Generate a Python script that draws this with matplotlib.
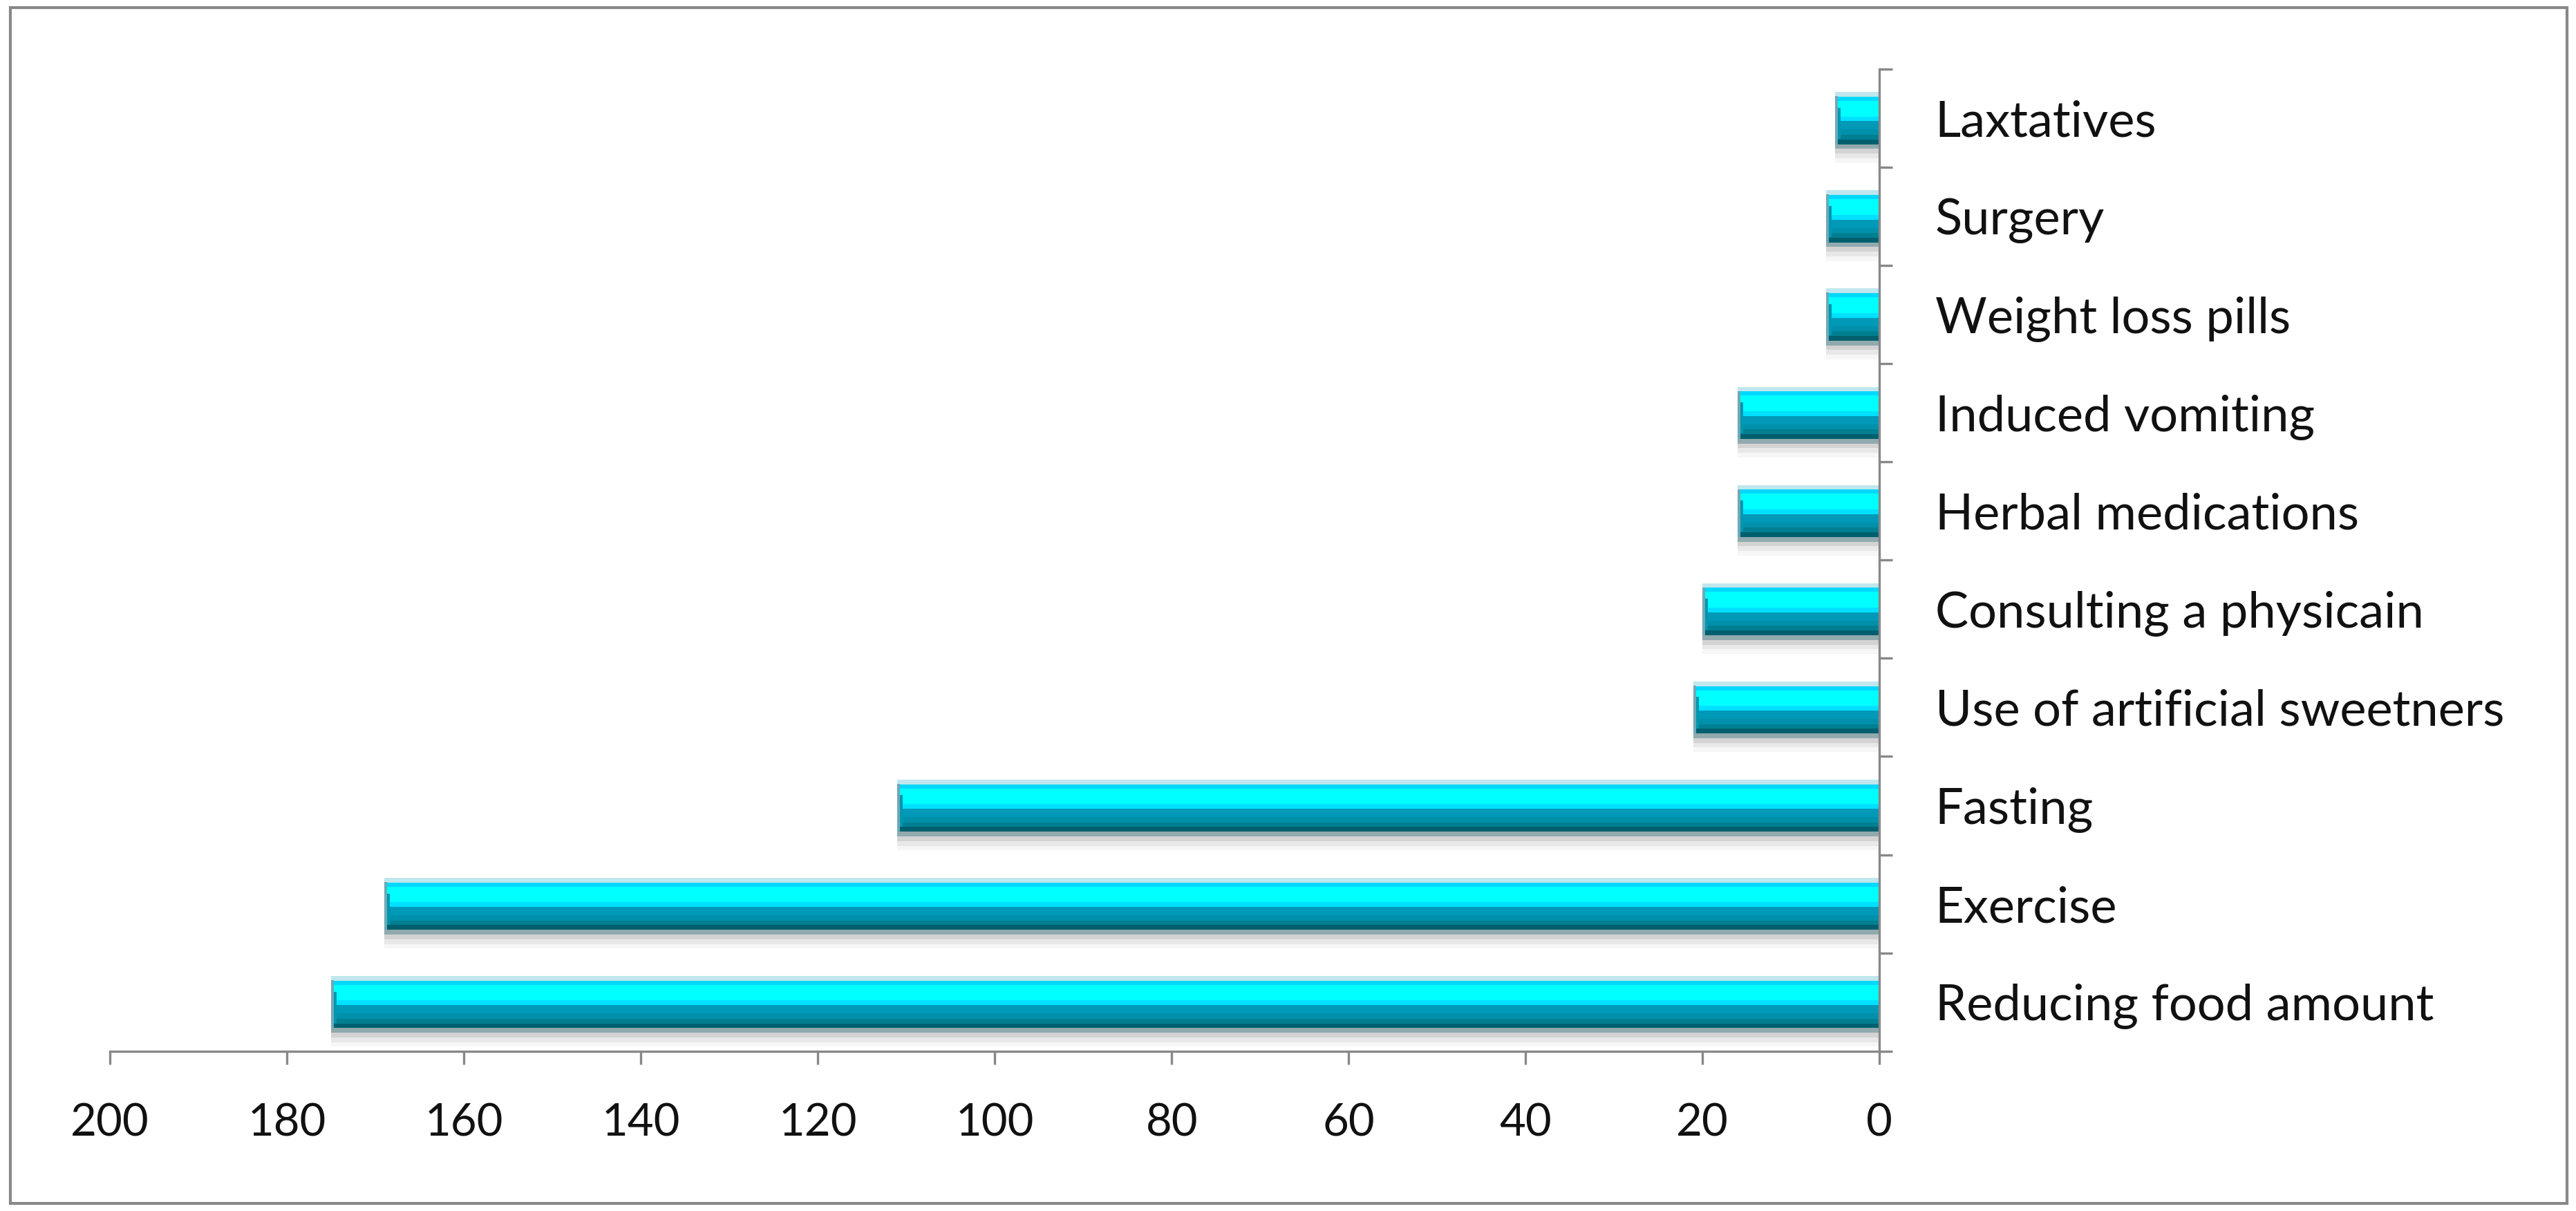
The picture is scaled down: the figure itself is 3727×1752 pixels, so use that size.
import matplotlib
matplotlib.use("Agg")
import matplotlib.pyplot as plt
from matplotlib.patches import Rectangle
import numpy as np

categories = ["Reducing food amount", "Exercise", "Fasting", "Use of artificial sweetners",
              "Consulting a physicain", "Herbal medications", "Induced vomiting",
              "Weight loss pills", "Surgery", "Laxtatives"]
values = [175, 169, 111, 21, 20, 16, 16, 6, 6, 5]
xticks = [200, 180, 160, 140, 120, 100, 80, 60, 40, 20, 0]

plt.rcParams['font.family'] = ['Lato', 'DejaVu Sans']

fig = plt.figure(figsize=(37.27, 17.52), dpi=100)
ax = fig.add_axes([0.0427, 0.132, 0.6869, 0.811])

pos = np.arange(len(categories))
H = 0.53
# stripes: (top fraction, bottom fraction, color) measured from top of bar, in units of H
stripes = [
    (0.00, 0.09, "#c0e6ee"),
    (0.09, 0.17, "#00d8ff"),
    (0.17, 0.47, "#00ffff"),
    (0.47, 0.56, "#00e0ff"),
    (0.56, 0.72, "#0099b8"),
    (0.72, 0.82, "#0090aa"),
    (0.82, 0.91, "#007f92"),
    (0.91, 1.00, "#005f6e"),
    (1.00, 1.09, "#90aaae"),
    (1.09, 1.18, "#d3d3d3"),
    (1.18, 1.27, "#e8e8e8"),
    (1.27, 1.36, "#f6f6f6"),
]
for t, b, c in stripes:
    top = pos + H / 2 - t * H
    bot = pos + H / 2 - b * H
    ax.barh((top + bot) / 2, values, height=(b - t) * H, left=0, color=c, linewidth=0, zorder=2)

# left-end bevel
vals = np.array(values, dtype=float)
bev = 0.3
ax.barh(pos - 0.04 * H, [bev] * len(vals), left=vals - bev, height=0.92 * H,
        color="#6fa9b6", linewidth=0, zorder=3)
ax.barh(pos - 0.1 * H, [bev] * len(vals), left=vals - 2 * bev, height=0.6 * H,
        color="#0096b0", linewidth=0, zorder=3)

ax.set_xlim(200, 0)
ax.set_ylim(-0.5, 9.5)
ax.set_xticks(xticks)
ax.set_xticklabels([str(v) for v in xticks])

ax.yaxis.tick_right()
ax.set_yticks(pos)
ax.set_yticklabels(categories)
ax.set_yticks(np.arange(-0.5, 10, 1), minor=True)

for s in ["left", "top"]:
    ax.spines[s].set_visible(False)
for s in ["right", "bottom"]:
    ax.spines[s].set_color("#888888")
    ax.spines[s].set_linewidth(2.4)

ax.tick_params(axis='y', which='major', length=0, pad=58, labelsize=52, labelcolor="#111111")
ax.tick_params(axis='y', which='minor', length=14, width=2.4, color="#888888", direction='out')
ax.tick_params(axis='x', which='major', length=14, width=2.4, color="#888888",
               direction='out', pad=40, labelsize=47, labelcolor="#111111")

fig.patches.append(Rectangle((0.004, 0.006), 0.9925, 0.988, transform=fig.transFigure,
                             fill=False, edgecolor="#888888", linewidth=3))

fig.savefig("out.png", dpi=100, facecolor="white")
